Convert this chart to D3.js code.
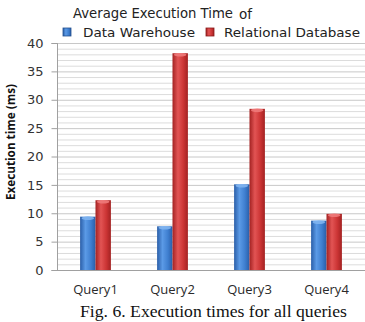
<!DOCTYPE html>
<html><head><meta charset="utf-8">
<script src="https://cdn.jsdelivr.net/npm/d3@7"></script>
<style>body{margin:0;background:#fff}svg{display:block}</style>
</head><body><svg id="c" width="365" height="322"></svg>
<script>
const categories = ["Query1","Query2","Query3","Query4"];
const seriesNames = ["Data Warehouse","Relational Database"];
const dataWarehouse = [9.4, 7.7, 15.1, 8.7];
const relationalDb = [12.3, 38.2, 28.4, 9.9];
const yTicks = [0,5,10,15,20,25,30,35,40];

(function(){
const svg = d3.select("#c");
const mL=57,mR=365,mT=43,mB=270;
const x = d3.scaleBand().domain(categories).range([mL,mR]).paddingInner(0.6).paddingOuter(0.3);
const x1 = d3.scaleBand().domain(seriesNames).range([0,x.bandwidth()]);
const y = d3.scaleLinear().domain([0,40]).range([mB,mT]);

const defs = svg.append("defs");
function grad(id, edge, mid, light){
  const g = defs.append("linearGradient").attr("id",id).attr("x1","0").attr("x2","1").attr("y1","0").attr("y2","0");
  g.append("stop").attr("offset","0%").attr("stop-color",edge);
  g.append("stop").attr("offset","35%").attr("stop-color",light);
  g.append("stop").attr("offset","70%").attr("stop-color",mid);
  g.append("stop").attr("offset","100%").attr("stop-color",edge);
}
grad("gB","#2a5ea8","#3f7fd0","#5b9ae6");
grad("gR","#a32222","#cc3535","#e25454");
const fills = {"Data Warehouse":"url(#gB)","Relational Database":"url(#gR)"};
const caps = {"Data Warehouse":"#7fb4f0","Relational Database":"#ee7a7a"};

// minor gridlines
const minor = d3.range(1,41);
svg.append("g").selectAll("line").data(minor).join("line")
  .attr("x1",mL).attr("x2",mR).attr("y1",d=>y(d)+0.5).attr("y2",d=>y(d)+0.5)
  .attr("stroke",d=>d%5===0?"#c8c8c8":"#dcdcdc").attr("stroke-width",1);

// y axis
const yAxis = d3.axisLeft(y).tickValues(yTicks).tickSize(6).tickPadding(8).tickFormat(d3.format("d"));
const gy = svg.append("g").attr("transform",`translate(${mL+0.5},0)`).call(yAxis);
gy.select(".domain").attr("stroke","#a0a0a0").attr("d",`M-6,${mT+0.5}H0V${mB+0.5}H-6`);
gy.selectAll(".tick line").attr("stroke","#a0a0a0");
gy.selectAll(".tick text").attr("font-family","DejaVu Sans").attr("font-size",13).attr("fill","#333");

// x axis line
svg.append("line").attr("x1",mL-5).attr("x2",mR).attr("y1",mB+0.5).attr("y2",mB+0.5).attr("stroke","#a0a0a0");

// bars
const rows = categories.map((c,i)=>({c, vals:[{s:seriesNames[0],v:dataWarehouse[i]},{s:seriesNames[1],v:relationalDb[i]}]}));
const gg = svg.append("g").selectAll("g").data(rows).join("g").attr("transform",d=>`translate(${x(d.c)},0)`);
gg.selectAll("rect.bar").data(d=>d.vals).join("rect").attr("class","bar")
  .attr("x",d=>x1(d.s)).attr("width",x1.bandwidth()).attr("y",d=>y(d.v)).attr("height",d=>y(0)-y(d.v))
  .attr("fill",d=>fills[d.s]);
gg.selectAll("ellipse.cap").data(d=>d.vals).join("ellipse").attr("class","cap")
  .attr("cx",d=>x1(d.s)+x1.bandwidth()/2).attr("cy",d=>y(d.v)+1.5).attr("rx",x1.bandwidth()/2-1.5).attr("ry",1.8)
  .attr("fill",d=>caps[d.s]).attr("opacity",0.9);

// x labels
svg.append("g").selectAll("text").data(categories).join("text")
  .attr("x",d=>x(d)+x.bandwidth()/2).attr("y",294).attr("text-anchor","middle")
  .attr("font-family","Open Sans").attr("font-size",13).attr("fill","#2a2a2a").text(d=>d);

// y title
svg.append("text").attr("transform","translate(15,142) rotate(-90)").attr("text-anchor","middle")
  .attr("font-family","Open Sans").attr("font-weight","bold").attr("font-size",13).attr("fill","#111")
  .attr("textLength",116).attr("lengthAdjust","spacingAndGlyphs")
  .text("Execution time (ms)");

// title
svg.append("text").attr("x",73).attr("y",18).attr("font-family","DejaVu Sans").attr("font-size",13.5).attr("fill","#222")
  .attr("textLength",160).attr("lengthAdjust","spacingAndGlyphs").text("Average Execution Time");
svg.append("text").attr("x",239).attr("y",19).attr("font-family","DejaVu Sans").attr("font-size",13.5).attr("fill","#222").text("of");

// legend
const legX=[63,206], legTX=[83,224], legLen=[112,136];
const lg = svg.append("g").selectAll("g").data(seriesNames).join("g");
lg.append("rect").attr("x",(d,i)=>legX[i]).attr("y",28).attr("width",8).attr("height",8)
  .attr("fill",(d,i)=>fills[d]).attr("stroke",(d,i)=>i?"#8a1a1a":"#24508f").attr("stroke-width",0.8);
lg.append("text").attr("x",(d,i)=>legTX[i]).attr("y",37).attr("font-family","DejaVu Sans").attr("font-size",13).attr("fill","#222")
  .attr("textLength",(d,i)=>legLen[i]).attr("lengthAdjust","spacingAndGlyphs").text(d=>d);

// caption
svg.append("text").attr("x",80).attr("y",317).attr("font-family","Liberation Serif").attr("font-size",17).attr("fill","#111")
  .attr("textLength",267).attr("lengthAdjust","spacingAndGlyphs").text("Fig. 6. Execution times for all queries");
})();
</script></body></html>
